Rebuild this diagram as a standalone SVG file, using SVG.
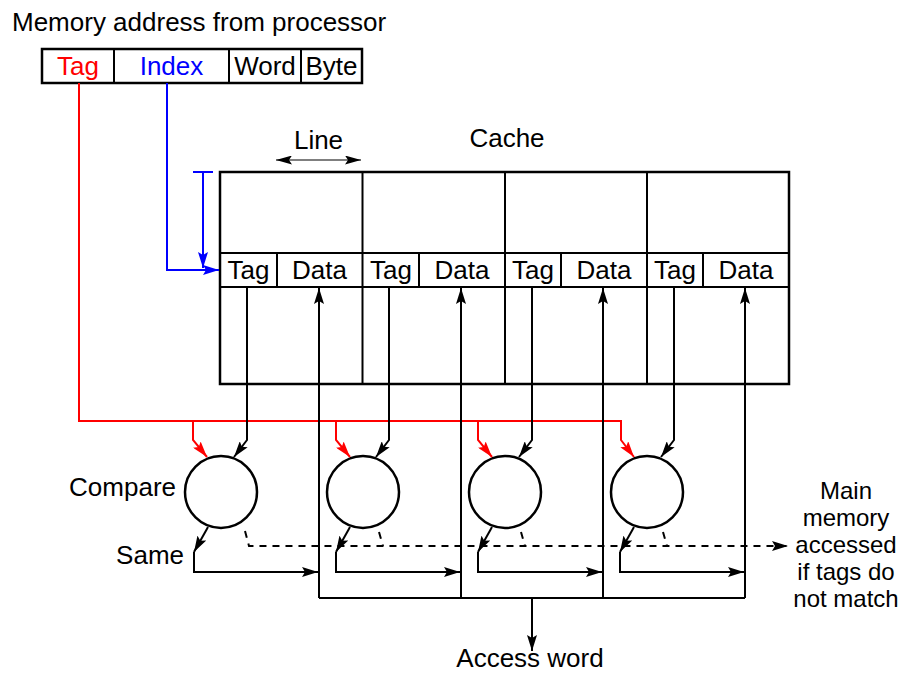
<svg xmlns="http://www.w3.org/2000/svg" width="909" height="673" viewBox="0 0 909 673">
<style>
text{font-family:"Liberation Sans",Arial,sans-serif;font-size:26px;fill:#000}
.c{text-anchor:middle}
.e{text-anchor:end}
.m{font-size:24px}
.box{fill:#fff;stroke:#000;stroke-width:2.5}
.ln{fill:none;stroke:#000;stroke-width:2}
.red{fill:none;stroke:#f00;stroke-width:2}
.blue{fill:none;stroke:#00f;stroke-width:2}
.dash{fill:none;stroke:#000;stroke-width:2;stroke-dasharray:7 6}
.thin{fill:none;stroke:#000;stroke-width:1.2}
</style>
<defs>
<marker id="ak" viewBox="0 0 16 10" refX="16" refY="5" markerWidth="16" markerHeight="10" markerUnits="userSpaceOnUse" orient="auto"><path d="M0,0 L16,5 L0,10 L3,5 z" fill="#000"/></marker>
<marker id="ar" viewBox="0 0 16 10" refX="16" refY="5" markerWidth="16" markerHeight="10" markerUnits="userSpaceOnUse" orient="auto"><path d="M0,0 L16,5 L0,10 L3,5 z" fill="#f00"/></marker>
<marker id="ab" viewBox="0 0 16 10" refX="16" refY="5" markerWidth="16" markerHeight="10" markerUnits="userSpaceOnUse" orient="auto"><path d="M0,0 L16,5 L0,10 L3,5 z" fill="#00f"/></marker>
<marker id="al" viewBox="0 0 16 9" refX="16" refY="4.5" markerWidth="16" markerHeight="9" markerUnits="userSpaceOnUse" orient="auto-start-reverse"><path d="M0,0 L16,4.5 L0,9 L3,4.5 z" fill="#000"/></marker>
</defs>

<g id="title"><text x="12" y="31">Memory address from processor</text></g>

<g id="address">
<rect class="box" x="42" y="49" width="320" height="34"/>
<path class="ln" d="M114,49 V83 M229,49 V83 M301,49 V83" stroke-width="2.5"/>
<text class="c" x="78" y="75" style="fill:#f00">Tag</text>
<text class="c" x="171.5" y="75" style="fill:#00f">Index</text>
<text class="c" x="265" y="75">Word</text>
<text class="c" x="331.5" y="75">Byte</text>
</g>

<g id="cache">
<text class="c" x="507" y="147">Cache</text>
<rect class="box" x="220" y="172" width="569" height="212"/>
<path class="ln" d="M220,253 H789 M220,287 H789 M362.5,172 V384 M505,172 V384 M647,172 V384 M277,253 V287 M419,253 V287 M561,253 V287 M703,253 V287" stroke-width="2.2"/>
<text class="c" x="248.5" y="279">Tag</text><text class="c" x="319.5" y="279">Data</text>
<text class="c" x="391" y="279">Tag</text><text class="c" x="462" y="279">Data</text>
<text class="c" x="533" y="279">Tag</text><text class="c" x="604" y="279">Data</text>
<text class="c" x="675" y="279">Tag</text><text class="c" x="746" y="279">Data</text>
</g>

<g id="line-label">
<text class="c" x="318.5" y="149">Line</text>
<path class="thin" d="M276,160 H361" marker-start="url(#al)" marker-end="url(#al)"/>
</g>

<g id="cmp1"><circle class="box" cx="221" cy="492" r="36"/></g>
<g id="cmp2"><circle class="box" cx="363" cy="492" r="36"/></g>
<g id="cmp3"><circle class="box" cx="505" cy="492" r="36"/></g>
<g id="cmp4"><circle class="box" cx="647" cy="492" r="36"/></g>

<g id="labels">
<text class="e" x="176" y="496">Compare</text>
<text class="e" x="184" y="564">Same</text>
<text class="c" x="530" y="667">Access word</text>
<text class="c m" x="846" y="499">Main</text>
<text class="c m" x="846" y="526">memory</text>
<text class="c m" x="846" y="553">accessed</text>
<text class="c m" x="846" y="580">if tags do</text>
<text class="c m" x="846" y="607">not match</text>
</g>

<g id="connectors">
<path class="red" d="M79,83 V421 H621 V440 L634,457" marker-end="url(#ar)"/>
<path class="red" d="M193,421 V440 L207,457" marker-end="url(#ar)"/>
<path class="red" d="M336,421 V440 L350,457" marker-end="url(#ar)"/>
<path class="red" d="M478,421 V440 L492,457" marker-end="url(#ar)"/>
<path class="blue" d="M167,83 V270 H219" marker-end="url(#ab)"/>
<path class="blue" d="M193,172 H213"/>
<path class="blue" d="M203,172 V268" marker-end="url(#ab)"/>
<path class="ln" d="M247,287 V440 L234,457" marker-end="url(#ak)"/>
<path class="ln" d="M389,287 V440 L376,457" marker-end="url(#ak)"/>
<path class="ln" d="M532,287 V440 L519,457" marker-end="url(#ak)"/>
<path class="ln" d="M674,287 V440 L661,457" marker-end="url(#ak)"/>
<path class="ln" d="M319,598 V288" marker-end="url(#ak)"/>
<path class="ln" d="M461,598 V288" marker-end="url(#ak)"/>
<path class="ln" d="M603,598 V288" marker-end="url(#ak)"/>
<path class="ln" d="M745,598 V288" marker-end="url(#ak)"/>
<path class="ln" d="M319,598 H745"/>
<path class="ln" d="M532,598 V651" marker-end="url(#ak)"/>
<path class="ln" d="M208,527 L194,552" marker-end="url(#ak)"/>
<path class="ln" d="M350,527 L336,552" marker-end="url(#ak)"/>
<path class="ln" d="M492,527 L478,552" marker-end="url(#ak)"/>
<path class="ln" d="M634,527 L620,552" marker-end="url(#ak)"/>
<path class="ln" d="M194,552 V572 H318" marker-end="url(#ak)"/>
<path class="ln" d="M336,552 V572 H460" marker-end="url(#ak)"/>
<path class="ln" d="M478,552 V572 H602" marker-end="url(#ak)"/>
<path class="ln" d="M620,552 V572 H744" marker-end="url(#ak)"/>
<path class="dash" d="M245,531 L249,546 H788" marker-end="url(#ak)"/>
<path class="dash" d="M379,532 L383,546"/>
<path class="dash" d="M521,532 L525,546"/>
<path class="dash" d="M663,532 L667,546"/>
</g>
</svg>
